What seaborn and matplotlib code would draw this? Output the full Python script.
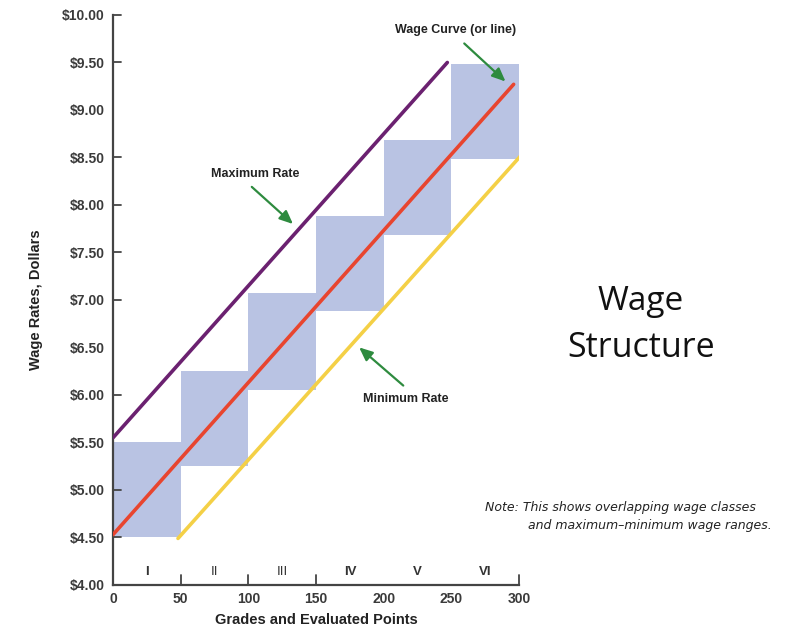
import matplotlib
matplotlib.use("Agg")
import matplotlib.pyplot as plt
import seaborn as sns
import pandas as pd
from matplotlib.transforms import blended_transform_factory

# Pay grades and their point ranges
grades = ["I", "II", "III", "IV", "V", "VI"]
grade_weight = ["bold", "normal", "normal", "bold", "bold", "bold"]
grade_start = [0, 50, 100, 150, 200, 250]
grade_width = [50, 50, 50, 50, 50, 50]
rate_low = [4.50, 5.25, 6.05, 6.88, 7.68, 8.48]
rate_high = [5.50, 6.25, 7.07, 7.88, 8.68, 9.48]

# Straight-line rates: (points, dollars) at each end
wage_points = [0, 296]
wage_rates = [4.53, 9.27]
max_points = [0, 247]
max_rates = [5.55, 9.50]
min_points = [48, 302]
min_rates = [4.49, 8.53]

y_ticks = [4.00, 4.50, 5.00, 5.50, 6.00, 6.50, 7.00, 7.50, 8.00, 8.50, 9.00, 9.50, 10.00]
x_ticks = [0, 50, 100, 150, 200, 250, 300]
y_marks = [4.50, 5.00, 6.00, 7.00, 7.50, 8.00, 8.50, 9.50, 10.00]
x_marks = [50, 100, 150, 300]

sns.set_style("white")
plt.rcParams["font.family"] = ["Liberation Sans", "DejaVu Sans"]

fig = plt.figure(figsize=(7.91, 6.32), dpi=100)
ax = fig.add_axes([0.1429, 0.0744, 0.5133, 0.9019])

box_color = "#b9c3e3"
ax.bar(grade_start, [h - l for l, h in zip(rate_low, rate_high)], width=grade_width,
       bottom=rate_low, align="edge", color=box_color, edgecolor="none", zorder=1)

lines = pd.concat([
    pd.DataFrame({"points": max_points, "rate": max_rates, "series": "Maximum"}),
    pd.DataFrame({"points": wage_points, "rate": wage_rates, "series": "Wage"}),
    pd.DataFrame({"points": min_points, "rate": min_rates, "series": "Minimum"}),
])
sns.lineplot(data=lines, x="points", y="rate", hue="series",
             palette={"Maximum": "#6b2170", "Wage": "#e8452f", "Minimum": "#f4d046"},
             linewidth=2.6, legend=False, ax=ax, zorder=3)

ax.set_xlim(0, 300)
ax.set_ylim(4.0, 10.0)
ax.set_xticks(x_ticks)
ax.set_yticks(y_ticks)
ax.set_xticklabels([str(t) for t in x_ticks], fontsize=10, fontweight="bold", color="#3a3a3a")
ax.set_yticklabels([f"${t:.2f}" for t in y_ticks], fontsize=10, fontweight="bold", color="#3a3a3a")
ax.tick_params(axis="both", length=0)
ax.tick_params(axis="y", pad=6)
ax.tick_params(axis="x", pad=5)

# short inward tick marks on a subset of positions
trans_y = blended_transform_factory(ax.transAxes, ax.transData)
for yt in y_marks:
    ax.plot([0, 0.02], [yt, yt], transform=trans_y, clip_on=False, color="#444444", lw=1.3)
trans_x = blended_transform_factory(ax.transData, ax.transAxes)
for xt in x_marks:
    ax.plot([xt, xt], [0, 0.018], transform=trans_x, clip_on=False, color="#444444", lw=1.3)

for s in ["top", "right"]:
    ax.spines[s].set_visible(False)
for s in ["left", "bottom"]:
    ax.spines[s].set_color("#444444")
    ax.spines[s].set_linewidth(1.6)

ax.set_xlabel("Grades and Evaluated Points", fontsize=10.5, fontweight="bold", color="#222222", labelpad=5)
ax.set_ylabel("Wage Rates, Dollars", fontsize=10.5, fontweight="bold", color="#222222", labelpad=14)

# grade numerals along the bottom
for g, w8, s, w in zip(grades, grade_weight, grade_start, grade_width):
    ax.text(s + w / 2, 4.14, g, ha="center", va="center", fontsize=9.5,
            fontweight=w8, color="#333333")

arrow_kw = dict(arrowstyle="-|>,head_length=0.8,head_width=0.35", color="#2e8b3f", lw=1.6)
label_kw = dict(ha="center", va="center", fontsize=9, fontweight="bold", color="#222222")
ax.annotate("", xy=(291.5, 9.28), xytext=(258, 9.72), arrowprops=arrow_kw)
ax.text(253, 9.84, "Wage Curve (or line)", **label_kw)
ax.annotate("", xy=(134.5, 7.78), xytext=(101, 8.21), arrowprops=arrow_kw)
ax.text(105, 8.33, "Maximum Rate", **label_kw)
ax.annotate("", xy=(180.3, 6.52), xytext=(216, 6.08), arrowprops=arrow_kw)
ax.text(216, 5.96, "Minimum Rate", **label_kw)

fig.text(641 / 791, 1 - 302 / 632, "Wage", ha="center", va="center", fontsize=24,
         family=["Open Sans", "DejaVu Sans"], color="#111111")
fig.text(641 / 791, 1 - 348 / 632, "Structure", ha="center", va="center", fontsize=24.5,
         family=["Open Sans", "DejaVu Sans"], color="#111111")

note_kw = dict(ha="left", va="center", fontsize=9, style="italic", color="#222222",
               family=["DejaVu Sans"])
fig.text(485 / 791, 1 - 508 / 632, "Note: This shows overlapping wage classes", **note_kw)
fig.text(528 / 791, 1 - 525 / 632, "and maximum\u2013minimum wage ranges.", **note_kw)

fig.savefig("out.png", dpi=100)
